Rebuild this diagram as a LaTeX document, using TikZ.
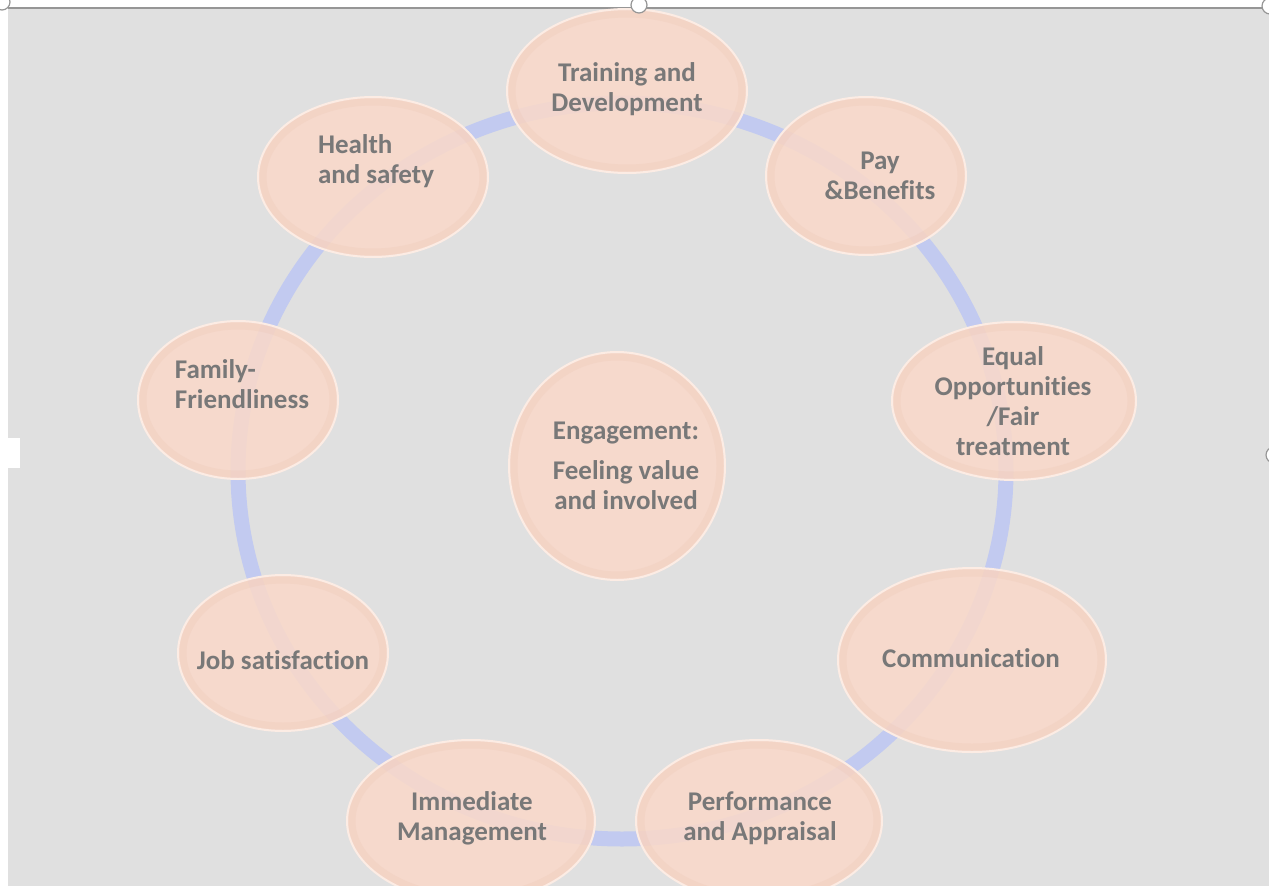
\documentclass[tikz,border=0pt]{standalone}
\usepackage{fontspec}
\setmainfont{Carlito}[Ligatures=NoCommon]
\usepackage{tikz}
\usetikzlibrary{shapes.geometric}

\definecolor{canvas}{RGB}{224,224,224}
\definecolor{frameline}{RGB}{150,150,150}
\definecolor{ringblue}{RGB}{194,202,240}
\definecolor{peach}{RGB}{250,217,201}
\definecolor{peachrim}{RGB}{252,236,228}
\definecolor{peachedge}{RGB}{230,186,166}
\definecolor{labelgray}{RGB}{120,120,120}

\tikzset{
  ring/.style={draw=ringblue, line width=15pt},
  bubble/.style={fill=peach, fill opacity=0.86, draw=peachrim, line width=2pt},
  bevel/.style={draw=peachedge, draw opacity=0.16, line width=7pt},
  factor/.style={text=labelgray, font=\fontsize{27}{30}\selectfont\bfseries, align=center, inner sep=0pt},
  handle/.style={fill=white, draw=frameline, line width=1.2pt}
}

\begin{document}
\begin{tikzpicture}[x=1pt, y=-1pt]
  \useasboundingbox (0,0) rectangle (1269,886);
  % Canvas
  \fill[canvas] (8,8) rectangle (1269,886);
  \draw[frameline, line width=1.5pt] (8,8) -- (1262,8);

  % Ring behind the bubbles
  \draw[ring] (622,471) ellipse [x radius=384pt, y radius=368pt];

  % Bubbles: centre x / centre y / x radius / y radius
  \foreach \cx/\cy/\rx/\ry in {627/91/120/82, 866/176/100/79, 373/177/115/80,
                               238/400/100/79, 1014/401/122/79, 617/466/108/114,
                               283/653/105/78, 972/660/134/92, 471/821/124/81,
                               759/821/123/81}{
    \draw[bubble] (\cx,\cy) ellipse [x radius=\rx pt, y radius=\ry pt];
    \draw[bevel] (\cx,\cy) ellipse [x radius=\rx pt - 5pt, y radius=\ry pt - 5pt];
  };

  % Labels
  \node (train)  [factor] at (627,89)   {Training and\\Development};
  \node (pay)    [factor] at (880,176)  {Pay\\\&Benefits};
  \node (health) [factor, align=left] at (376,161) {Health\\and safety};
  \node (family) [factor, align=left] at (242,384) {Family-\\Friendliness};
  \node (equal)  [factor] at (1013,401) {Equal\\Opportunities\\/Fair\\treatment};
  \node (engage) [factor] at (626,466)  {Engagement:\\[10pt]Feeling value\\and involved};
  \node (job)    [factor] at (283,660)  {Job satisfaction};
  \node (comm)   [factor] at (971,658)  {Communication};
  \node (immed)  [factor] at (472,818)  {Immediate\\Management};
  \node (perf)   [factor] at (760,818)  {Performance\\and Appraisal};

  % Selection handles
  \draw[handle] (639,5) circle [radius=8pt];
  \draw[handle] (1270,6) circle [radius=8pt];
  \draw[handle] (1274,455) circle [radius=8pt];
  \draw[handle] (2,2) circle [radius=8pt];
  \fill[white] (0,438) rectangle (20,468);
\end{tikzpicture}
\end{document}
